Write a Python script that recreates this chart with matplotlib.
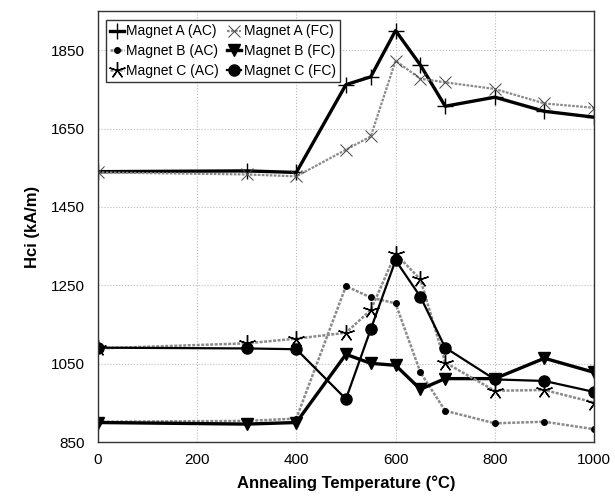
import matplotlib
matplotlib.use("Agg")
import matplotlib.pyplot as plt

plt.rcParams['font.family'] = ['Liberation Sans', 'DejaVu Sans']

temps = [0, 300, 400, 500, 550, 600, 650, 700, 800, 900, 1000]
a_ac = [1540, 1542, 1538, 1762, 1782, 1900, 1812, 1707, 1730, 1694, 1679]
a_fc = [1538, 1533, 1528, 1596, 1630, 1823, 1777, 1768, 1751, 1714, 1703]
b_ac = [902, 904, 910, 1248, 1219, 1204, 1028, 930, 898, 902, 883]
b_fc = [900, 896, 900, 1074, 1051, 1046, 985, 1012, 1012, 1064, 1028]
c_ac = [1089, 1102, 1114, 1129, 1187, 1331, 1265, 1053, 981, 983, 951]
c_fc = [1091, 1089, 1087, 960, 1138, 1314, 1221, 1091, 1010, 1006, 978]

labels = ["Magnet A (AC)", "Magnet A (FC)", "Magnet B (AC)",
          "Magnet B (FC)", "Magnet C (AC)", "Magnet C (FC)"]
xticks = [0, 200, 400, 600, 800, 1000]
yticks = [850, 1050, 1250, 1450, 1650, 1850]

fig = plt.figure(figsize=(6.15, 4.99), dpi=100)
ax = fig.add_axes([0.159, 0.114, 0.807, 0.864])

gray = '#8a8a8a'
dot = (0, (1.2, 0.6))

l1, = ax.plot(temps, a_ac, color='black', lw=2.4, marker='+', ms=12, mew=1.0, label=labels[0])
l2, = ax.plot(temps, a_fc, color=gray, lw=1.6, ls=dot, marker='x', ms=9, mew=0.7,
              mec='#444444', label=labels[1])
l3, = ax.plot(temps, b_ac, color=gray, lw=1.8, ls=dot, marker='o', ms=4, mfc='black',
              mec='black', label=labels[2])
l4, = ax.plot(temps, b_fc, color='black', lw=2.4, marker='v', ms=8, label=labels[3])
l5, = ax.plot(temps, c_ac, color=gray, lw=1.8, ls=dot, marker=(5, 2, 0), ms=12, mew=1.0,
              mec='black', label=labels[4])
l6, = ax.plot(temps, c_fc, color='black', lw=1.6, marker='o', ms=8, label=labels[5])

ax.set_xlim(0, 1000)
ax.set_ylim(850, 1950)
ax.set_xticks(xticks)
ax.set_yticks(yticks)
ax.tick_params(axis='x', labelsize=11, length=0, pad=8)
ax.tick_params(axis='y', labelsize=11, length=0, pad=9)
ax.grid(True, color='#bbbbbb', ls=':', lw=0.8)
ax.set_axisbelow(True)
for s in ax.spines.values():
    s.set_color('#333333')
    s.set_linewidth(1.0)

ax.set_xlabel("Annealing Temperature (°C)", fontsize=12, fontweight='bold', labelpad=6)
ax.set_ylabel("Hci (kA/m)", fontsize=12, fontweight='bold', labelpad=8)

leg = ax.legend(handles=[l1, l3, l5, l2, l4, l6], ncol=2, loc='upper left',
                bbox_to_anchor=(0.01, 0.985), fontsize=10, frameon=True, fancybox=False,
                handlelength=1.0, handletextpad=0.2, columnspacing=0.6,
                borderpad=0.3, labelspacing=0.42, borderaxespad=0.2)
leg.get_frame().set_edgecolor('black')
leg.get_frame().set_linewidth(1.0)

fig.savefig("out.png", dpi=100)
